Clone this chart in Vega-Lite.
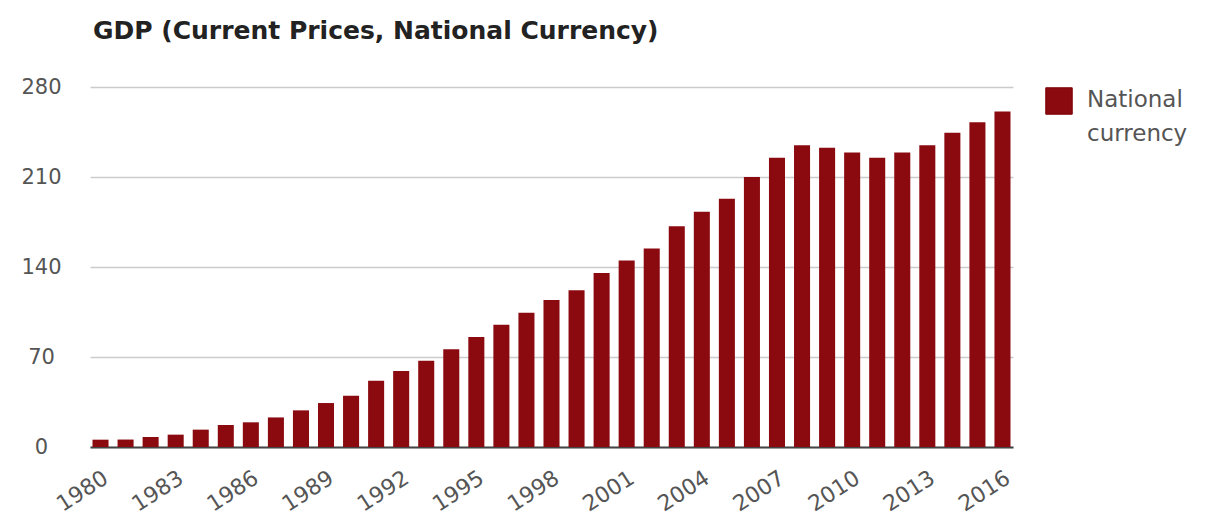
{
  "$schema": "https://vega.github.io/schema/vega-lite/v6.json",
  "autosize": {"type": "none"},
  "width": 923,
  "height": 360,
  "padding": {"left": 90, "top": 87, "right": 211, "bottom": 68},
  "background": "white",
  "title": {
    "text": "GDP (Current Prices, National Currency)",
    "anchor": "start",
    "frame": "group",
    "font": "DejaVu Sans",
    "fontSize": 25,
    "fontWeight": "bold",
    "color": "#222222",
    "offset": 7,
    "baseline": "bottom",
    "dx": 3
  },
  "data": {
    "values": [
      {"year": 1980, "value": 5.7, "series": "National currency"},
      {"year": 1981, "value": 5.8, "series": "National currency"},
      {"year": 1982, "value": 7.8, "series": "National currency"},
      {"year": 1983, "value": 9.6, "series": "National currency"},
      {"year": 1984, "value": 13.5, "series": "National currency"},
      {"year": 1985, "value": 17.1, "series": "National currency"},
      {"year": 1986, "value": 19.2, "series": "National currency"},
      {"year": 1987, "value": 23, "series": "National currency"},
      {"year": 1988, "value": 28.5, "series": "National currency"},
      {"year": 1989, "value": 34.2, "series": "National currency"},
      {"year": 1990, "value": 39.9, "series": "National currency"},
      {"year": 1991, "value": 51.5, "series": "National currency"},
      {"year": 1992, "value": 59.1, "series": "National currency"},
      {"year": 1993, "value": 67, "series": "National currency"},
      {"year": 1994, "value": 76, "series": "National currency"},
      {"year": 1995, "value": 85.6, "series": "National currency"},
      {"year": 1996, "value": 95, "series": "National currency"},
      {"year": 1997, "value": 104.5, "series": "National currency"},
      {"year": 1998, "value": 114.3, "series": "National currency"},
      {"year": 1999, "value": 122, "series": "National currency"},
      {"year": 2000, "value": 135.3, "series": "National currency"},
      {"year": 2001, "value": 145, "series": "National currency"},
      {"year": 2002, "value": 154.3, "series": "National currency"},
      {"year": 2003, "value": 171.7, "series": "National currency"},
      {"year": 2004, "value": 183, "series": "National currency"},
      {"year": 2005, "value": 193, "series": "National currency"},
      {"year": 2006, "value": 210, "series": "National currency"},
      {"year": 2007, "value": 225, "series": "National currency"},
      {"year": 2008, "value": 234.7, "series": "National currency"},
      {"year": 2009, "value": 232.8, "series": "National currency"},
      {"year": 2010, "value": 229, "series": "National currency"},
      {"year": 2011, "value": 225, "series": "National currency"},
      {"year": 2012, "value": 229, "series": "National currency"},
      {"year": 2013, "value": 234.7, "series": "National currency"},
      {"year": 2014, "value": 244.5, "series": "National currency"},
      {"year": 2015, "value": 252.5, "series": "National currency"},
      {"year": 2016, "value": 261, "series": "National currency"}
    ]
  },
  "mark": {"type": "bar"},
  "encoding": {
    "x": {
      "field": "year",
      "type": "ordinal",
      "scale": {"paddingInner": 0.36, "paddingOuter": 0.1},
      "axis": {
        "title": null,
        "values": [1980, 1983, 1986, 1989, 1992, 1995, 1998, 2001, 2004, 2007, 2010, 2013, 2016],
        "labelAngle": -33,
        "labelAlign": "right",
        "labelBaseline": "top",
        "labelPadding": 20,
        "labelDx": 10,
        "ticks": false,
        "domain": true,
        "domainColor": "#444444",
        "domainWidth": 2,
        "labelFont": "DejaVu Sans",
        "labelFontSize": 22,
        "labelColor": "#555555",
        "grid": false
      }
    },
    "y": {
      "field": "value",
      "type": "quantitative",
      "scale": {"domain": [0, 280], "nice": false},
      "axis": {
        "title": null,
        "values": [0, 70, 140, 210, 280],
        "ticks": false,
        "domain": false,
        "grid": true,
        "gridColor": "#cccccc",
        "gridWidth": 1.5,
        "labelAlign": "center",
        "labelPadding": 49,
        "labelFont": "DejaVu Sans",
        "labelFontSize": 21,
        "labelColor": "#555555"
      }
    },
    "color": {
      "field": "series",
      "type": "nominal",
      "scale": {"range": ["#8b0a10"]},
      "legend": {
        "title": null,
        "orient": "none",
        "legendX": 955,
        "legendY": 0,
        "padding": 0,
        "symbolType": "square",
        "symbolSize": 700,
        "symbolStrokeWidth": 0,
        "labelFont": "DejaVu Sans",
        "labelFontSize": 23,
        "labelColor": "#555555",
        "labelOffset": 14,
        "labelBaseline": "top",
        "labelExpr": "['National', 'currency']",
        "labelLimit": 300,
        "encoding": {
          "labels": {"lineHeight": {"value": 34}, "dy": {"value": -12}},
          "symbols": {"fill": {"value": "#a00000"}, "stroke": {"value": "#7a0000"}, "strokeWidth": {"value": 1}}
        }
      }
    }
  },
  "config": {"view": {"stroke": null}}
}
